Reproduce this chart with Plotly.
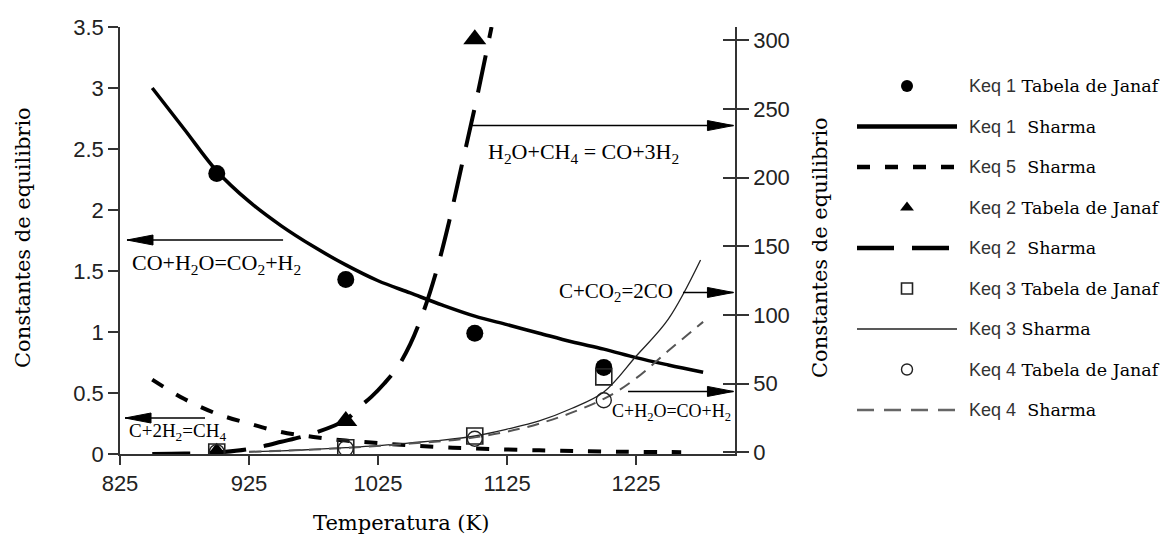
import plotly.graph_objects as go

W, H = 1172, 538

# ---------------- data ----------------
T_janaf = [900, 1000, 1100, 1200]
keq1_janaf = [2.30, 1.43, 0.99, 0.71]
T_janaf2 = [900, 1000, 1100]
keq2_janaf = [0.01, 0.27, 3.40]
keq3_janaf = [0.4, 3.5, 12.0, 55.0]
keq4_janaf = [0.3, 3.0, 10.0, 38.0]

T_keq1 = [850, 875, 900, 925, 950, 975, 1000, 1025, 1050, 1075, 1100, 1125, 1150, 1175, 1200, 1225, 1250, 1277]
keq1_sharma = [3.00, 2.66, 2.32, 2.07, 1.87, 1.70, 1.55, 1.42, 1.32, 1.22, 1.13, 1.06, 0.99, 0.92, 0.86, 0.79, 0.73, 0.67]

T_keq2 = [850, 875, 900, 925, 950, 975, 1000, 1010, 1020, 1030, 1040, 1050, 1060, 1070, 1080, 1090, 1100, 1113]
keq2_sharma = [0.0, 0.004, 0.012, 0.04, 0.10, 0.17, 0.28, 0.38, 0.47, 0.58, 0.71, 0.90, 1.16, 1.49, 1.90, 2.37, 2.84, 3.50]

T_keq5 = [850, 875, 900, 925, 950, 975, 1000, 1025, 1050, 1075, 1100, 1150, 1200, 1260]
keq5_sharma = [0.61, 0.45, 0.33, 0.25, 0.18, 0.14, 0.11, 0.09, 0.07, 0.055, 0.045, 0.03, 0.02, 0.015]

T_keq3 = [925, 950, 975, 1000, 1025, 1050, 1075, 1100, 1125, 1150, 1175, 1200, 1225, 1250, 1275]
keq3_sharma = [0.5, 1.2, 2.2, 3.5, 5.0, 7.0, 9.0, 12.0, 17.0, 23.0, 32.0, 44.0, 70.0, 97.0, 140.0]

T_keq4 = [925, 950, 1000, 1050, 1100, 1150, 1200, 1225, 1250, 1277]
keq4_sharma = [0.5, 1.2, 3.3, 6.5, 11.0, 21.0, 39.0, 54.0, 74.0, 95.0]

x_ticks = [825, 925, 1025, 1125, 1225]
y_left_ticks = [0, 0.5, 1, 1.5, 2, 2.5, 3, 3.5]
y_right_ticks = [0, 50, 100, 150, 200, 250, 300]

legend_entries = [
    ("Keq 1", "Tabela de Janaf"),
    ("Keq 1", " Sharma"),
    ("Keq 5", " Sharma"),
    ("Keq 2", "Tabela de Janaf"),
    ("Keq 2", " Sharma"),
    ("Keq 3", "Tabela de Janaf"),
    ("Keq 3", "Sharma"),
    ("Keq 4", "Tabela de Janaf"),
    ("Keq 4", " Sharma"),
]

# ---------------- styles ----------------
SERIF_WIDE = "DejaVu Serif"
SERIF = "Liberation Serif"
SANS = "Liberation Sans"
AXC = "#333333"

s_keq1 = dict(color="black", width=3.5, shape="spline")
s_keq5 = dict(color="black", width=4, dash="13px,15px", shape="spline")
s_keq2 = dict(color="black", width=4, dash="38px,18px", shape="spline")
s_keq3 = dict(color="#222222", width=1.3, shape="spline")
s_keq4 = dict(color="#555555", width=2, dash="12px,8px", shape="spline")

m_keq1 = dict(symbol="circle", size=17, color="black")
m_keq2 = dict(symbol="triangle-up", size=20, color="black")
m_keq3 = dict(symbol="square-open", size=16, color="#222222", line=dict(width=1.6, color="#222222"))
m_keq4 = dict(symbol="circle-open", size=15, color="#222222", line=dict(width=1.4, color="#222222"))

fig = go.Figure()

def line(x, y, style, yaxis="y"):
    fig.add_trace(go.Scatter(x=x, y=y, mode="lines", line=style, yaxis=yaxis,
                             xaxis="x", showlegend=False, hoverinfo="skip"))

def marks(x, y, style, yaxis="y"):
    fig.add_trace(go.Scatter(x=x, y=y, mode="markers", marker=style, yaxis=yaxis,
                             xaxis="x", showlegend=False, hoverinfo="skip"))

line(T_keq1, keq1_sharma, s_keq1)
line(T_keq5, keq5_sharma, s_keq5)
line(T_keq2, keq2_sharma, s_keq2)
marks(T_janaf, keq1_janaf, m_keq1)
marks(T_janaf2, keq2_janaf, m_keq2)
line(T_keq3, keq3_sharma, s_keq3, "y2")
line(T_keq4, keq4_sharma, s_keq4, "y2")
marks(T_janaf, keq3_janaf, m_keq3, "y2")
marks(T_janaf, keq4_janaf, m_keq4, "y2")
# dummy for crossing-tick axis
fig.add_trace(go.Scatter(x=[None], y=[None], xaxis="x", yaxis="y3", showlegend=False, hoverinfo="skip"))

# ---------------- legend (drawn on pixel-like helper axes) ----------------
leg_styles = [
    ("m", m_keq1 | dict(size=12)),
    ("l", dict(color="black", width=4.5)),
    ("l", dict(color="black", width=4.5, dash="13px,15px")),
    ("m", m_keq2 | dict(size=12)),
    ("l", dict(color="black", width=4.5, dash="37px,18px")),
    ("m", m_keq3 | dict(size=11)),
    ("l", dict(color="#222222", width=1.5)),
    ("m", m_keq4 | dict(size=11)),
    ("l", dict(color="#666666", width=2.5, dash="17px,10px")),
]
LEG_X0, LEG_X1, LEG_TX = 857, 957, 967
for i, ((k, name), (kind, st)) in enumerate(zip(legend_entries, leg_styles)):
    yy = 86 + 40.5 * i
    if kind == "m":
        fig.add_trace(go.Scatter(x=[(LEG_X0 + LEG_X1) / 2], y=[yy], mode="markers", marker=st,
                                 xaxis="x2", yaxis="y4", showlegend=False, hoverinfo="skip"))
    else:
        fig.add_trace(go.Scatter(x=[LEG_X0, LEG_X1], y=[yy, yy], mode="lines", line=st,
                                 xaxis="x2", yaxis="y4", showlegend=False, hoverinfo="skip"))
    fig.add_annotation(x=LEG_TX, y=yy, xref="x2", yref="y4", xanchor="left", yanchor="middle",
                       showarrow=False,
                       text=f'<span style="font-family:{SANS};font-size:18px;color:#333333">{k}</span> {name}',
                       font=dict(family=SERIF_WIDE, size=17.5, color="black"))

# ---------------- arrows + reaction labels ----------------
def arrow(x_tail, x_head, y, yref):
    fig.add_shape(type="line", xref="x", yref=yref, x0=x_tail, x1=x_head, y0=y, y1=y,
                  line=dict(color="black", width=1.6))
    d = 1 if x_head > x_tail else -1
    fig.add_shape(type="path", xref="x", yref=yref, xsizemode="pixel", ysizemode="pixel",
                  xanchor=x_head, yanchor=y,
                  path=f"M0,0 L{-26 * d},5 L{-26 * d},-5 Z",
                  fillcolor="black", line=dict(color="black", width=1))

arrow(951.4, 830.4, 1.754, "y")
arrow(890.9, 828.9, 0.295, "y")
arrow(1096.3, 1300.5, 237.8, "y2")
arrow(1261.4, 1300.5, 116.4, "y2")
arrow(1218.8, 1300.5, 44.4, "y2")

def label(x, y, yref, text, size, xanchor):
    fig.add_annotation(x=x, y=y, xref="x", yref=yref, text=text, showarrow=False,
                       xanchor=xanchor, yanchor="middle",
                       font=dict(family=SERIF, size=size, color="black"))

label(832.8, 1.56, "y", "CO+H<sub>2</sub>O=CO<sub>2</sub>+H<sub>2</sub>", 22, "left")
label(830.4, 0.18, "y", "C+2H<sub>2</sub>=CH<sub>4</sub>", 19, "left")
label(1183.9, 217.5, "y2", "H<sub>2</sub>O+CH<sub>4</sub> = CO+3H<sub>2</sub>", 22, "center")
label(1255.2, 116.4, "y2", "C+CO<sub>2</sub>=2CO", 21, "right")
label(1204.8, 29.0, "y2", "C+H<sub>2</sub>O=CO+H<sub>2</sub>", 18, "left")

# ---------------- axis titles ----------------
fig.add_annotation(x=401 / W, y=1 - 523 / H, xref="paper", yref="paper", text="Temperatura (K)",
                   showarrow=False, xanchor="center", yanchor="middle",
                   font=dict(family=SERIF_WIDE, size=21, color="black"))
fig.add_annotation(x=23 / W, y=1 - 238 / H, xref="paper", yref="paper", text="Constantes de equilibrio",
                   showarrow=False, xanchor="center", yanchor="middle", textangle=-90,
                   font=dict(family=SERIF_WIDE, size=21, color="black"))
fig.add_annotation(x=820 / W, y=1 - 248 / H, xref="paper", yref="paper", text="Constantes de equilibrio",
                   showarrow=False, xanchor="center", yanchor="middle", textangle=-90,
                   font=dict(family=SERIF_WIDE, size=21, color="black"))

tickfont = dict(family=SANS, size=22, color="#222222")
common = dict(showgrid=False, zeroline=False, linecolor=AXC, linewidth=1.5, tickcolor=AXC,
              tickwidth=1.5, tickfont=tickfont, automargin=False)

fig.update_layout(
    width=W, height=H,
    margin=dict(l=0, r=0, t=0, b=0, autoexpand=False),
    paper_bgcolor="white", plot_bgcolor="rgba(0,0,0,0)",
    showlegend=False,
    xaxis=dict(domain=[120 / W, 735 / W], range=[825, 1301.7], tickvals=x_ticks,
               ticks="outside", ticklen=9, showline=True, anchor="y", **common),
    yaxis=dict(domain=[1 - 454 / H, 1 - 27 / H], range=[0, 3.5], tickvals=y_left_ticks,
               ticks="outside", ticklen=10, showline=True, anchor="x", **common),
    yaxis2=dict(overlaying="y", side="right", anchor="x", range=[-1.1, 309.5],
                tickvals=y_right_ticks, ticks="outside", ticklen=12, showline=True, **common),
    yaxis3=dict(overlaying="y", side="right", anchor="x", range=[-1.1, 309.5],
                tickvals=y_right_ticks, ticks="inside", ticklen=12, showline=False,
                showticklabels=False, **common),
    xaxis2=dict(domain=[840 / W, 1], range=[840, 1172], anchor="y4", visible=False, automargin=False),
    yaxis4=dict(domain=[0, 1], range=[538, 0], anchor="x2", visible=False, automargin=False),
)

fig.write_html("out.html", config={"displayModeBar": False})
